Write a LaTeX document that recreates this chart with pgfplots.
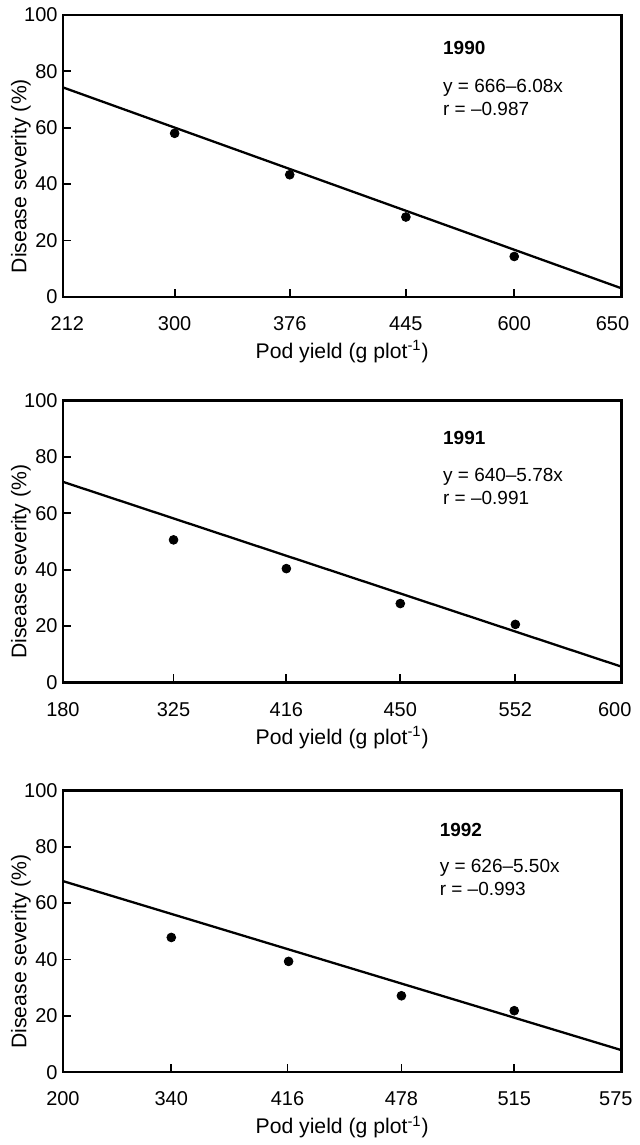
\documentclass[border=0pt]{standalone}
\usepackage{fontspec}
\setmainfont{Liberation Sans}
\usepackage{pgfplots}
\pgfplotsset{compat=1.18}
\pgfplotsset{
  panel/.style={
    scale only axis, width=279.5pt, height=141pt,
    anchor=south west,
    xmin=0, xmax=5, ymin=0, ymax=100,
    ytick={0,20,40,60,80,100},
    tick align=inside, tick pos=left,
    major tick length=4pt,
    tick style={line width=0.9pt, black},
    axis line style={line width=1.2pt},
    /pgf/number format/assume math mode=true,
    tick label style={font=\fontsize{10}{12}\selectfont},
    yticklabel style={inner xsep=2.5pt},
    xticklabel style={anchor=center, yshift=-13.5pt},
    label style={font=\fontsize{10.6}{12}\selectfont},
    xlabel={Pod yield (g plot\textsuperscript{-1})},
    ylabel={Disease severity (\%)},
    xlabel style={at={(axis description cs:0.5,0)}, anchor=center, yshift=-27.5pt},
    ylabel style={at={(axis description cs:-0.0655,0.428)}, anchor=base},
    extra x tick style={tick style={draw=none}},
  },
  dots/.style={only marks, mark=*, mark size=2.2pt, black},
  fitline/.style={no marks, black, line width=1.15pt},
}
\tikzset{ann/.style={anchor=base west, font=\fontsize{9.5}{11}\selectfont, inner sep=0pt}}
\begin{document}
\begin{tikzpicture}
\path (0pt,0pt) rectangle (317pt,-572.5pt);
% ---------- 1990 ----------
\begin{axis}[panel, at={(31.5pt,-148.5pt)},
  xtick={1,2.03,3.07,4.04}, xticklabels={300,376,445,600},
  extra x ticks={0.04,4.92}, extra x tick labels={212,650}]
\addplot[fitline] coordinates {(0,74.3) (5,3.0)};
\addplot[dots] coordinates {(1.00,58.0) (2.03,43.3) (3.07,28.3) (4.04,14.3)};
\node[ann] at (axis cs:3.40,86.0) {\textbf{1990}};
\node[ann] at (axis cs:3.40,72.5) {y = 666–6.08x};
\node[ann] at (axis cs:3.40,64.4) {r = –0.987};
\end{axis}
% ---------- 1991 ----------
\begin{axis}[panel, at={(31.5pt,-341.5pt)},
  xtick={0.99,2.00,3.02,4.05}, xticklabels={325,416,450,552},
  extra x ticks={0,4.94}, extra x tick labels={180,600}]
\addplot[fitline] coordinates {(0,71.2) (5,5.6)};
\addplot[dots] coordinates {(0.99,50.6) (2.00,40.4) (3.02,28.0) (4.05,20.6)};
\node[ann] at (axis cs:3.40,84.3) {\textbf{1991}};
\node[ann] at (axis cs:3.40,71.2) {y = 640–5.78x};
\node[ann] at (axis cs:3.40,63.1) {r = –0.991};
\end{axis}
% ---------- 1992 ----------
\begin{axis}[panel, at={(31.5pt,-536.5pt)},
  xtick={0.97,2.01,3.03,4.04}, xticklabels={340,416,478,515},
  extra x ticks={0,4.95}, extra x tick labels={200,575}]
\addplot[fitline] coordinates {(0,67.8) (5,7.8)};
\addplot[dots] coordinates {(0.97,47.8) (2.02,39.3) (3.03,27.1) (4.04,21.8)};
\node[ann] at (axis cs:3.37,83.8) {\textbf{1992}};
\node[ann] at (axis cs:3.37,70.8) {y = 626–5.50x};
\node[ann] at (axis cs:3.37,62.6) {r = –0.993};
\end{axis}
\end{tikzpicture}
\end{document}
